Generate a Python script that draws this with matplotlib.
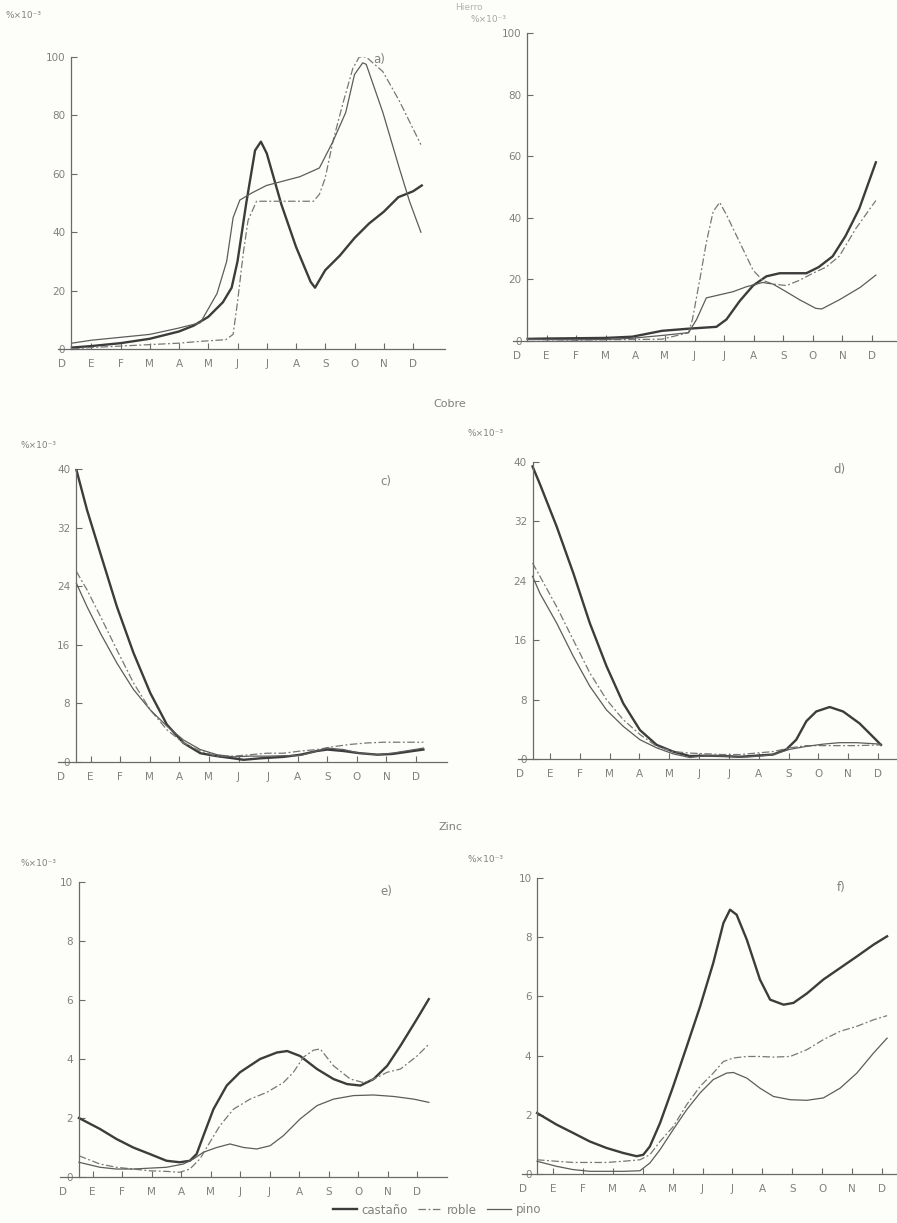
import matplotlib
matplotlib.use("Agg")
import matplotlib.pyplot as plt
from matplotlib.lines import Line2D

W, H = 897, 1223
MONTHS = ["D", "E", "F", "M", "A", "M", "J", "J", "A", "S", "O", "N", "D"]

# ---- data, x in months from December (0) to December (12) ----
# a) Hierro
a_cast_x = [0.34, 1, 2, 3, 4, 4.5, 5, 5.5, 5.8, 6, 6.3, 6.6, 6.8, 7.0, 7.5, 8, 8.5, 8.65, 9, 9.5, 10, 10.5, 11, 11.5, 12, 12.3]
a_cast_y = [0.5, 1, 2, 3.5, 6, 8, 11, 16, 21, 30, 50, 68, 71, 67, 49.5, 35, 23, 21, 27, 32, 38, 43, 47, 52, 54, 56]
a_rob_x = [0.34, 1, 3, 4, 4.7, 5.6, 5.85, 6.0, 6.2, 6.36, 6.65, 7.0, 8.0, 8.6, 8.8, 9.0, 9.26, 9.6, 9.94, 10.16, 10.4, 10.97, 11.53, 12.27]
a_rob_y = [0, 0.5, 1.5, 2, 2.6, 3.2, 5, 16, 33, 44, 50.6, 50.6, 50.6, 50.6, 53, 58.6, 71, 84, 96, 100, 100, 95, 85, 70]
a_pino_x = [0.34, 1, 2, 3, 3.92, 4.73, 5.3, 5.63, 5.85, 6.08, 6.5, 6.99, 7.56, 8.13, 8.58, 8.8, 9.26, 9.7, 10.0, 10.28, 10.4, 10.97, 11.53, 11.88, 12.27]
a_pino_y = [2, 3, 4, 5, 7, 9, 19, 30, 45, 51, 53.5, 56, 57.5, 59, 61, 62, 71, 81, 94, 98, 97.5, 81, 62, 50.6, 40]

# b) Hierro
b_cast_x = [0.36, 1, 2, 3, 3.9, 4.9, 5.8, 6.74, 7.08, 7.53, 7.98, 8.43, 8.88, 9.78, 10.2, 10.67, 11.1, 11.57, 12.13]
b_cast_y = [0.7, 0.8, 0.9, 1, 1.4, 3.3, 4, 4.6, 7, 13, 18, 21, 22, 22, 24, 27.5, 34, 43, 58]
b_rob_x = [0.36, 2, 4, 4.9, 5.8, 5.93, 6.18, 6.4, 6.63, 6.85, 7.08, 7.53, 7.98, 8.3, 8.65, 9.1, 9.55, 10.0, 10.45, 10.9, 11.46, 12.13]
b_rob_y = [0.5, 0.3, 0.5, 0.6, 2.7, 7, 20, 32, 42, 45, 41, 32, 23, 19.7, 18.5, 18, 19.7, 22, 24, 27.6, 36.6, 45.6]
b_pino_x = [0.36, 2, 3, 3.9, 4.9, 5.8, 6.07, 6.4, 6.85, 7.3, 7.75, 8.3, 8.65, 9.1, 9.55, 10.1, 10.3, 10.9, 11.6, 12.13]
b_pino_y = [0.5, 0.4, 0.5, 0.9, 1.8, 2.7, 7, 14, 15, 16, 17.6, 19, 18.5, 16, 13.4, 10.6, 10.4, 13.4, 17.4, 21.4]

# c) Cobre
c_cast_x = [0.52, 0.88, 1.33, 1.89, 2.45, 3.02, 3.58, 4.14, 4.71, 5.27, 5.83, 6.17, 6.73, 7.52, 8.1, 8.65, 9.0, 9.55, 10.1, 10.7, 11.2, 12.25]
c_cast_y = [39.9, 34.4, 28.5, 21.2, 14.9, 9.4, 5.1, 2.6, 1.2, 0.8, 0.5, 0.3, 0.5, 0.7, 1, 1.5, 1.7, 1.5, 1.2, 1.0, 1.1, 1.7]
c_rob_x = [0.52, 0.88, 1.33, 1.89, 2.45, 3.02, 3.58, 4.14, 4.71, 5.27, 5.83, 6.4, 6.96, 7.52, 8.1, 8.65, 9.21, 9.77, 10.34, 10.9, 12.25]
c_rob_y = [26, 23.5, 19.9, 15.3, 10.8, 7.1, 4.4, 2.6, 1.5, 0.8, 0.8, 1, 1.2, 1.2, 1.5, 1.7, 2.1, 2.4, 2.6, 2.7, 2.7]
c_pino_x = [0.52, 0.88, 1.33, 1.89, 2.45, 3.02, 3.58, 4.14, 4.71, 5.27, 5.83, 6.4, 6.96, 8.1, 8.65, 9.0, 9.55, 10.1, 10.7, 11.2, 12.25]
c_pino_y = [24.4, 21.2, 17.6, 13.5, 9.9, 7.1, 4.9, 3, 1.7, 1, 0.7, 0.8, 0.8, 0.9, 1.5, 1.9, 1.7, 1.2, 1, 1.2, 1.9]

# d) Cobre
d_cast_x = [0.42, 0.67, 1.23, 1.79, 2.34, 2.9, 3.46, 4.02, 4.58, 5.13, 5.69, 6.25, 6.81, 7.37, 7.92, 8.48, 8.93, 9.26, 9.6, 9.93, 10.38, 10.83, 11.38, 11.83, 12.1]
d_cast_y = [39.4, 37, 31.3, 25, 18.3, 12.5, 7.5, 3.9, 1.9, 1, 0.4, 0.45, 0.4, 0.3, 0.45, 0.6, 1.3, 2.6, 5.1, 6.4, 7, 6.4, 4.8, 3, 1.9]
d_rob_x = [0.42, 0.67, 1.23, 1.79, 2.34, 2.9, 3.46, 4.02, 4.58, 5.13, 5.69, 6.25, 6.81, 7.37, 7.92, 8.48, 9.04, 9.6, 10.16, 10.71, 11.27, 12.1]
d_rob_y = [26.4, 24.6, 20.5, 16, 11.6, 8, 5.3, 3.3, 1.7, 1, 0.8, 0.7, 0.6, 0.6, 0.8, 1, 1.5, 1.8, 1.8, 1.8, 1.8, 1.9]
d_pino_x = [0.42, 0.67, 1.23, 1.79, 2.34, 2.9, 3.46, 4.02, 4.58, 5.13, 5.69, 6.25, 6.81, 7.37, 7.92, 8.48, 9.04, 9.6, 10.16, 10.71, 11.27, 12.1]
d_pino_y = [24.6, 22.3, 18.3, 13.8, 9.8, 6.6, 4.4, 2.6, 1.5, 0.7, 0.2, 0.45, 0.4, 0.25, 0.35, 0.6, 1.3, 1.7, 2.0, 2.2, 2.2, 2.0]

# e) Zinc
e_cast_x = [0.54, 1.25, 1.81, 2.38, 2.94, 3.51, 3.96, 4.3, 4.53, 4.76, 5.1, 5.55, 6.0, 6.68, 7.25, 7.6, 8.04, 8.61, 9.17, 9.63, 10.08, 10.53, 10.99, 11.44, 12.0, 12.4]
e_cast_y = [2.0, 1.63, 1.29, 1.0, 0.78, 0.55, 0.5, 0.55, 0.78, 1.4, 2.3, 3.1, 3.55, 4.0, 4.22, 4.27, 4.1, 3.66, 3.32, 3.15, 3.1, 3.32, 3.77, 4.45, 5.36, 6.03]
e_rob_x = [0.54, 1.25, 1.81, 2.38, 2.94, 3.51, 3.96, 4.3, 4.64, 4.98, 5.32, 5.78, 6.34, 6.91, 7.47, 7.81, 8.15, 8.49, 8.72, 9.17, 9.74, 10.19, 10.53, 10.99, 11.44, 12.0, 12.4]
e_rob_y = [0.72, 0.44, 0.33, 0.27, 0.21, 0.19, 0.16, 0.27, 0.61, 1.18, 1.74, 2.3, 2.64, 2.87, 3.2, 3.55, 4.06, 4.3, 4.34, 3.77, 3.32, 3.2, 3.32, 3.55, 3.66, 4.1, 4.5]
e_pino_x = [0.54, 1.25, 1.81, 2.38, 2.94, 3.51, 4.08, 4.42, 4.76, 5.21, 5.66, 6.12, 6.57, 7.02, 7.47, 8.04, 8.61, 9.17, 9.85, 10.53, 11.21, 11.89, 12.4]
e_pino_y = [0.5, 0.33, 0.27, 0.27, 0.3, 0.33, 0.44, 0.61, 0.84, 1.0, 1.12, 1.0, 0.95, 1.06, 1.4, 1.97, 2.42, 2.64, 2.76, 2.78, 2.73, 2.64, 2.53]

# f) Zinc
f_cast_x = [0.47, 1.12, 1.67, 2.23, 2.79, 3.35, 3.8, 4.02, 4.24, 4.58, 5.02, 5.47, 5.92, 6.36, 6.7, 6.92, 7.14, 7.48, 7.92, 8.26, 8.71, 9.04, 9.49, 10.04, 10.6, 11.16, 11.72, 12.17]
f_cast_y = [2.06, 1.67, 1.39, 1.1, 0.88, 0.71, 0.6, 0.65, 0.93, 1.72, 2.96, 4.3, 5.66, 7.13, 8.48, 8.93, 8.76, 7.92, 6.57, 5.89, 5.72, 5.78, 6.1, 6.57, 6.96, 7.35, 7.75, 8.03]
f_rob_x = [0.47, 1.12, 1.67, 2.23, 2.79, 3.35, 3.91, 4.24, 4.58, 5.02, 5.47, 5.92, 6.36, 6.7, 7.03, 7.48, 7.92, 8.37, 8.93, 9.49, 10.04, 10.6, 11.16, 11.72, 12.17]
f_rob_y = [0.48, 0.43, 0.39, 0.39, 0.39, 0.43, 0.48, 0.65, 1.1, 1.6, 2.34, 2.96, 3.41, 3.8, 3.92, 3.97, 3.97, 3.95, 3.97, 4.2, 4.54, 4.82, 4.99, 5.21, 5.35]
f_pino_x = [0.47, 1.12, 1.67, 2.23, 2.79, 3.35, 3.91, 4.24, 4.58, 5.02, 5.47, 5.92, 6.36, 6.81, 7.03, 7.48, 7.92, 8.37, 8.93, 9.49, 10.04, 10.6, 11.16, 11.72, 12.17]
f_pino_y = [0.43, 0.26, 0.15, 0.09, 0.09, 0.09, 0.11, 0.37, 0.82, 1.5, 2.17, 2.74, 3.19, 3.41, 3.43, 3.24, 2.9, 2.62, 2.51, 2.49, 2.57, 2.9, 3.41, 4.09, 4.59]

a_ticks = [0, 20, 40, 60, 80, 100]
b_ticks = [0, 20, 40, 60, 80, 100]
cd_ticks = [0, 8, 16, 24, 32, 40]
ef_ticks = [0, 2, 4, 6, 8, 10]

INK = "#808080"
C_CAST, C_ROB, C_PINO = "#3c3c3c", "#777777", "#5c5c5c"
BG = "#fdfdf9"


def panel(fig, box, d0, d12, ytop_val, yaxis_at, yticks):
    # box: pixel coords (x_left, x_right, y_of_zero, y_of_top)
    x0, x1, yb, yt = box
    ppm = (d12 - d0) / 12.0
    ax = fig.add_axes([x0 / W, 1 - yb / H, (x1 - x0) / W, (yb - yt) / H])
    ax.patch.set_alpha(0)
    ax.set_xlim((x0 - d0) / ppm, (x1 - d0) / ppm)
    ax.set_ylim(0, ytop_val)
    for s in ("top", "right"):
        ax.spines[s].set_visible(False)
    ax.spines["left"].set_position(("data", yaxis_at))
    for s in ("left", "bottom"):
        ax.spines[s].set_color("#6a6a6a")
        ax.spines[s].set_linewidth(0.9)
    ax.set_xticks(range(13))
    ax.set_xticklabels(MONTHS)
    ax.set_yticks(yticks)
    ax.set_yticklabels([str(t) for t in yticks])
    ax.tick_params(axis="both", direction="in", length=4, width=0.8,
                   colors="#6a6a6a", labelcolor=INK, labelsize=7.5)
    ax.tick_params(axis="x", pad=7)
    ax.tick_params(axis="y", pad=4)
    ax.xaxis.get_major_ticks()[0].tick1line.set_visible(False)
    return ax


def draw(ax, cx, cy, rx, ry, px, py):
    ax.plot(cx, cy, color=C_CAST, lw=1.7, solid_joinstyle="round")
    ax.plot(rx, ry, color=C_ROB, lw=0.9, dashes=(6, 2, 1.5, 2))
    ax.plot(px, py, color=C_PINO, lw=0.9, solid_joinstyle="round")


fig = plt.figure(figsize=(W / 100, H / 100), dpi=100, facecolor=BG)

ax = panel(fig, (58, 445, 349, 57), 62, 413, 100, 0.3, a_ticks)
draw(ax, a_cast_x, a_cast_y, a_rob_x, a_rob_y, a_pino_x, a_pino_y)
ax = panel(fig, (513, 897, 341, 33), 517, 872, 100, 0.34, b_ticks)
draw(ax, b_cast_x, b_cast_y, b_rob_x, b_rob_y, b_pino_x, b_pino_y)
ax = panel(fig, (58, 447, 762, 469), 61, 416, 40, 0.5, cd_ticks)
draw(ax, c_cast_x, c_cast_y, c_rob_x, c_rob_y, c_pino_x, c_pino_y)
ax = panel(fig, (518, 897, 759, 462), 520, 878, 40, 0.42, cd_ticks)
draw(ax, d_cast_x, d_cast_y, d_rob_x, d_rob_y, d_pino_x, d_pino_y)
ax = panel(fig, (60, 447, 1177, 882), 63, 417, 10, 0.54, ef_ticks)
draw(ax, e_cast_x, e_cast_y, e_rob_x, e_rob_y, e_pino_x, e_pino_y)
ax = panel(fig, (522, 897, 1174, 878), 523, 882, 10, 0.47, ef_ticks)
draw(ax, f_cast_x, f_cast_y, f_rob_x, f_rob_y, f_pino_x, f_pino_y)


def ftext(x, y, s, size=7.5, **kw):
    fig.text(x / W, 1 - y / H, s, fontsize=size, color=INK, va="center", **kw)


unit = "%\u00d710\u207b\u00b3"
ftext(5, 15, unit, 6.5)
ftext(455, 8, "Hierro", 6.5, alpha=0.6)
ftext(470, 20, unit, 6.5, alpha=0.7)
ftext(20, 446, unit, 6.5)
ftext(467, 433, unit, 6.5)
ftext(20, 863, unit, 6.5)
ftext(467, 860, unit, 6.5)

ftext(450, 404, "Cobre", 8, ha="center")
ftext(450, 827, "Zinc", 8, ha="center")

ftext(373, 60, "a)", 8.5)
ftext(380, 482, "c)", 8.5)
ftext(833, 470, "d)", 8.5)
ftext(380, 892, "e)", 8.5)
ftext(837, 887, "f)", 8.5)

handles = [
    Line2D([], [], color=C_CAST, lw=1.7, label="castaño"),
    Line2D([], [], color=C_ROB, lw=0.9, dashes=(6, 2, 1.5, 2), label="roble"),
    Line2D([], [], color=C_PINO, lw=0.9, label="pino"),
]
leg = fig.legend(handles=handles, loc="center", bbox_to_anchor=(437 / W, 1 - 1210 / H),
                 ncol=3, frameon=False, fontsize=8.5, handlelength=2.0,
                 columnspacing=0.9, handletextpad=0.4)
for t in leg.get_texts():
    t.set_color(INK)

fig.savefig("out.png", dpi=100, facecolor=BG)
